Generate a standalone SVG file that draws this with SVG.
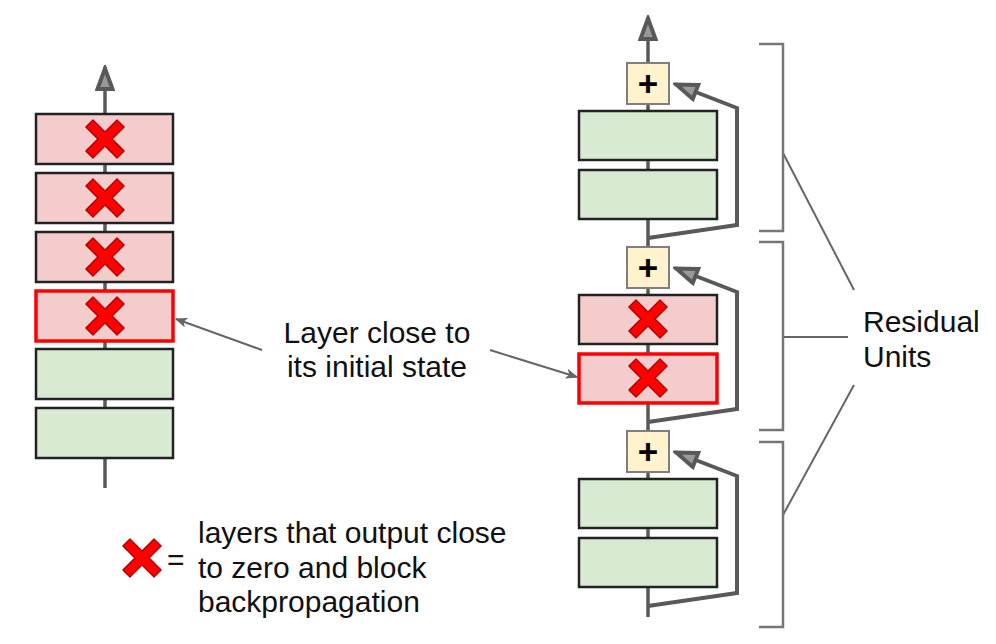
<svg xmlns="http://www.w3.org/2000/svg" xmlns:xlink="http://www.w3.org/1999/xlink" width="996" height="644" viewBox="0 0 996 644">
<style>
.txt{font-family:"Liberation Sans",Arial,sans-serif;font-size:30px;fill:#111}
.main{stroke:#595959;stroke-width:3.5;fill:none}
.skip{stroke:#595959;stroke-width:4;fill:none;stroke-linejoin:miter}
.green{fill:#d9ead3;stroke:#222;stroke-width:2.5}
.pink{fill:#f4cccc;stroke:#222;stroke-width:2.5}
.pinkred{fill:#f4cccc;stroke:#ff0000;stroke-width:3.5}
.plus{fill:#fff2cc;stroke:#7f7f7f;stroke-width:2}
.plustxt{font-family:"Liberation Sans",Arial,sans-serif;font-size:35px;font-weight:bold;fill:#000;text-anchor:middle}
.brk{stroke:#777;stroke-width:2.5;fill:none}
.lbl{stroke:#666;stroke-width:2;fill:none}
</style>
<defs>
<marker id="ah" viewBox="0 0 28 20" refX="26" refY="10" markerWidth="28" markerHeight="20" markerUnits="userSpaceOnUse" orient="auto">
<path d="M4,2.5 L24.5,10 L4,17.5 Z" fill="#9a9a9a" stroke="#595959" stroke-width="4" stroke-linejoin="miter"/>
</marker>
<marker id="sa" viewBox="0 0 12 10" refX="11" refY="5" markerWidth="12" markerHeight="10" markerUnits="userSpaceOnUse" orient="auto">
<path d="M1,1 L11,5 L1,9 L3.5,5 Z" fill="#666" stroke="#666" stroke-width="1"/>
</marker>
<g id="xm">
<polygon transform="rotate(45)" points="-5,-22 5,-22 5,-5 22,-5 22,5 5,5 5,22 -5,22 -5,5 -22,5 -22,-5 -5,-5" fill="#ff0000" stroke="#a80000" stroke-width="1.3" stroke-linejoin="round"/>
</g>
</defs>

<g id="connectors">
<line class="main" x1="105" y1="488" x2="105" y2="67" marker-end="url(#ah)"/>
<line class="main" x1="648" y1="617" x2="648" y2="17" marker-end="url(#ah)"/>
<polyline class="skip" points="648,238 737,225 737,108 675,84" marker-end="url(#ah)"/>
<polyline class="skip" points="648,422 737,409 737,292 675,268" marker-end="url(#ah)"/>
<polyline class="skip" points="648,606 737,593 737,476 675,452" marker-end="url(#ah)"/>
<line class="lbl" x1="262" y1="350" x2="176" y2="319" marker-end="url(#sa)"/>
<line class="lbl" x1="490" y1="350" x2="577" y2="377" marker-end="url(#sa)"/>
<line class="lbl" x1="783" y1="153" x2="854" y2="290"/>
<line class="lbl" x1="783" y1="337" x2="848" y2="337"/>
<line class="lbl" x1="783" y1="515" x2="854" y2="385"/>
</g>

<g id="left-l1"><rect class="pink" x="36" y="114" width="137" height="50"/><use xlink:href="#xm" x="105" y="139"/></g>
<g id="left-l2"><rect class="pink" x="36" y="173" width="137" height="50"/><use xlink:href="#xm" x="105" y="198"/></g>
<g id="left-l3"><rect class="pink" x="36" y="232" width="137" height="50"/><use xlink:href="#xm" x="105" y="257"/></g>
<g id="left-l4"><rect class="pinkred" x="36" y="291" width="137" height="50"/><use xlink:href="#xm" x="105" y="316"/></g>
<g id="left-l5"><rect class="green" x="36" y="349" width="137" height="50"/></g>
<g id="left-l6"><rect class="green" x="36" y="408" width="137" height="50"/></g>

<g id="plus1"><rect class="plus" x="627" y="63" width="42" height="41"/><text class="plustxt" x="648" y="96">+</text></g>
<g id="right-g1"><rect class="green" x="579" y="111" width="138" height="49"/></g>
<g id="right-g2"><rect class="green" x="579" y="170" width="138" height="49"/></g>
<g id="plus2"><rect class="plus" x="627" y="247" width="42" height="41"/><text class="plustxt" x="648" y="280">+</text></g>
<g id="right-r1"><rect class="pink" x="579" y="295" width="138" height="49"/><use xlink:href="#xm" x="648" y="319"/></g>
<g id="right-r2"><rect class="pinkred" x="579" y="354" width="138" height="49"/><use xlink:href="#xm" x="648" y="378"/></g>
<g id="plus3"><rect class="plus" x="627" y="431" width="42" height="41"/><text class="plustxt" x="648" y="464">+</text></g>
<g id="right-g3"><rect class="green" x="579" y="479" width="138" height="49"/></g>
<g id="right-g4"><rect class="green" x="579" y="538" width="138" height="49"/></g>

<g id="brackets">
<polyline class="brk" points="759,44 783,44 783,231 759,231"/>
<polyline class="brk" points="759,242 783,242 783,430 759,430"/>
<polyline class="brk" points="759,442 783,442 783,627 759,627"/>
</g>

<g id="label-layer">
<text class="txt" x="377" y="343" text-anchor="middle">Layer close to</text>
<text class="txt" x="377" y="377" text-anchor="middle">its initial state</text>
</g>
<g id="label-residual">
<text class="txt" x="863" y="332">Residual</text>
<text class="txt" x="863" y="367">Units</text>
</g>
<g id="legend">
<use xlink:href="#xm" x="142" y="558"/>
<text class="txt" x="167" y="570">=</text>
<text class="txt" x="198" y="543">layers that output close</text>
<text class="txt" x="198" y="578">to zero and block</text>
<text class="txt" x="198" y="612">backpropagation</text>
</g>
</svg>
